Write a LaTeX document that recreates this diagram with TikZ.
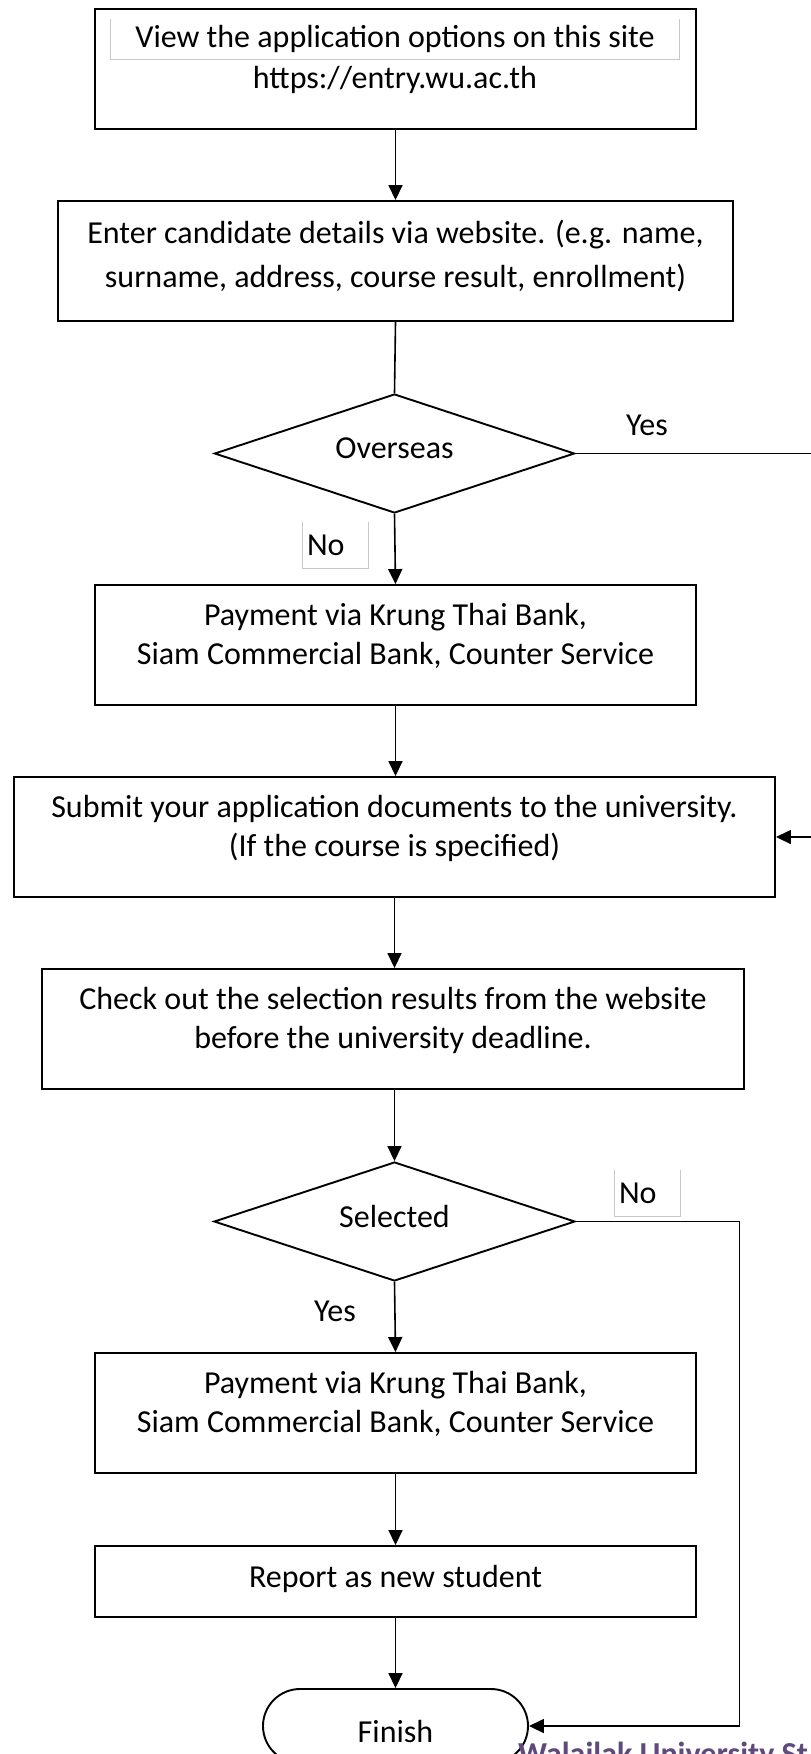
\documentclass[tikz,border=0pt]{standalone}
\usepackage{fontspec}
\setmainfont{Carlito}
\usetikzlibrary{arrows.meta,shapes.geometric,shapes.misc}
\definecolor{wupurple}{RGB}{96,74,123}
\definecolor{lblgray}{RGB}{200,200,200}
\begin{document}
\begin{tikzpicture}[x=1pt,y=-1pt,
  box/.style={draw, line width=1.9pt, inner sep=0pt},
  txt/.style={font=\fontsize{32}{39}\selectfont, align=center, inner sep=0pt},
  widetxt/.style={font=\fontsize{32}{44}\selectfont, align=center, inner sep=0pt},
  dec/.style={draw, diamond, line width=1.9pt, inner sep=0pt, aspect=3},
  term/.style={draw, rounded rectangle, line width=1.9pt, inner sep=0pt},
  conn/.style={line width=1.6pt},
  arr/.style={conn, -{Triangle[length=15pt,width=14pt]}},
  tag/.style={font=\fontsize{32}{39}\selectfont, align=left, text width=57pt, inner xsep=4pt, inner ysep=0pt, minimum height=46pt},
  tagedge/.style={draw=lblgray, line width=1pt},
  brand/.style={font=\bfseries\fontsize{32}{39}\selectfont, text=wupurple, anchor=base west, inner sep=0pt}
]
\useasboundingbox (0,0) rectangle (811,1754);
\clip (0,0) rectangle (811,1754);

% boxes
\node[box, minimum width=601pt, minimum height=120pt] (view) at (395.5,69) {};
\node[txt, minimum width=568pt, minimum height=40pt] (viewtxt) at (395,39) {View the application options on this site};
\draw[tagedge] (viewtxt.north west) -- (viewtxt.south west) -- (viewtxt.south east) -- (viewtxt.north east);
\node[txt] (url) at (395,80) {https://entry.wu.ac.th};

\node[box, minimum width=675pt, minimum height=120pt] (enter) at (395.5,261) {};
\node[widetxt] (entertxt) at (395.5,256) {Enter candidate details via website. (e.g. name,\\surname, address, course result, enrollment)};

\node[dec, minimum width=360pt, minimum height=119pt] (over) at (394.5,453.5) {};
\node[txt] (overtxt) at (394.5,448) {Overseas};
\node[txt] (yes1) at (647,425) {Yes};
\node[tag] (no1) at (335.5,545) {No};
\draw[tagedge] (no1.north west) -- (no1.south west) -- (no1.south east) -- (no1.north east);

\node[box, minimum width=601pt, minimum height=120pt] (pay1) at (395.5,645) {};
\node[txt] (pay1txt) at (395.5,636) {Payment via Krung Thai Bank,\\Siam Commercial Bank, Counter Service};

\node[box, minimum width=761pt, minimum height=120pt] (submit) at (394.5,837) {};
\node[txt] (submittxt) at (394.5,828) {Submit your application documents to the university.\\(If the course is specified)};

\node[box, minimum width=702pt, minimum height=120pt] (check) at (393,1029) {};
\node[txt] (checktxt) at (393,1020) {Check out the selection results from the website\\before the university deadline.};

\node[dec, minimum width=361pt, minimum height=119pt] (sel) at (394.5,1221.5) {};
\node[txt] (seltxt) at (394.5,1216) {Selected};
\node[tag] (no2) at (647.5,1193.5) {No};
\draw[tagedge] (no2.north west) -- (no2.south west) -- (no2.south east) -- (no2.north east);
\node[txt] (yes2) at (335,1311) {Yes};

\node[box, minimum width=601pt, minimum height=120pt] (pay2) at (395.5,1413) {};
\node[txt] (pay2txt) at (395.5,1404) {Payment via Krung Thai Bank,\\Siam Commercial Bank, Counter Service};

\node[box, minimum width=601pt, minimum height=71pt] (report) at (395.5,1581.5) {};
\node[txt] (reporttxt) at (395.5,1579) {Report as new student};

\node[term, minimum width=265pt, minimum height=74pt] (fin) at (395.5,1726) {};
\node[txt] (fintxt) at (395.5,1731) {Finish};

\node[brand] (wu) at (518,1764) {Walailak University St};

% connectors
\draw[arr] (view.south) -- (enter.north);
\draw[conn] (enter.south) -- (over.north);
\draw[arr] (over.south) -- (pay1.north);
\coordinate (yesout) at (830,453.5);
\coordinate (yesback) at (830,837);
\draw[arr] (over.east) -- (yesout) -- (yesback) -- (submit.east);
\draw[arr] (pay1.south) -- (pay1.south |- submit.north);
\draw[arr] (submit.south) -- (submit.south |- check.north);
\draw[arr] (sel.north |- check.south) -- (sel.north);
\draw[arr] (sel.south) -- (pay2.north);
\coordinate (nocorner) at (739.5,1221.5);
\draw[arr] (sel.east) -- (nocorner) |- (fin.east);
\draw[arr] (pay2.south) -- (report.north);
\draw[arr] (report.south) -- (fin.north);
\end{tikzpicture}
\end{document}
